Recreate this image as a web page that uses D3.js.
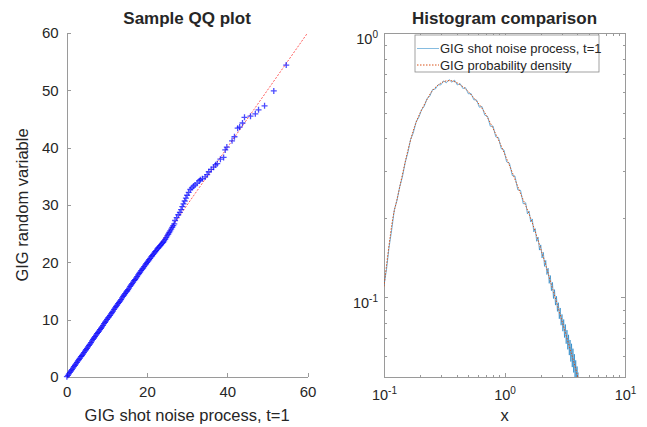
<!DOCTYPE html>
<html>
<head>
<meta charset="utf-8">
<script src="https://cdn.jsdelivr.net/npm/d3@7"></script>
<style>
	body { margin: 0; background: #fff; }
	svg text { font-family: "Liberation Sans", Arial, sans-serif; fill: #262626; }
	.axis path, .axis line { stroke: #9a9a9a; stroke-width: 1; shape-rendering: crispEdges; }
</style>
</head>
<body>
<svg id="chart" width="647" height="427"></svg>
<script>
// QQ plot: sample quantiles
const qqX = [0.05,0.3,0.55,0.8,1.05,1.3,1.55,1.8,2.05,2.3,2.55,2.8,3.05,3.3,3.55,3.8,4.05,4.3,4.55,4.8,
	5.05,5.3,5.55,5.8,6.05,6.3,6.55,6.8,7.05,7.3,7.55,7.8,8.05,8.3,8.55,8.8,9.05,9.3,9.55,9.8,
	10.05,10.3,10.55,10.8,11.05,11.3,11.55,11.8,12.05,12.3,12.55,12.8,13.05,13.3,13.55,13.8,14.05,14.3,14.55,14.8,
	15.05,15.3,15.55,15.8,16.05,16.3,16.55,16.8,17.05,17.3,17.55,17.8,18.05,18.3,18.55,18.8,19.05,19.3,19.55,19.8,
	20.05,20.3,20.55,20.8,21.05,21.3,21.55,21.8,22.05,22.3,22.55,22.8,23.05,23.3,23.55,23.8,24.05,24.3,24.55,24.8,
	25.05,25.3,25.55,25.8,26.05,26.3,26.55,26.8,
	27.0,27.4,27.8,28.2,28.5,28.8,29.1,29.4,29.7,30.0,30.4,30.8,31.2,31.6,32.0,32.5,33.0,33.3,33.8,34.5,
	35.0,35.4,36.0,36.6,37.1,37.5,38.3,39.1,39.5,39.9,41.2,41.8,42.6,43.1,43.8,44.3,45.8,47.0,47.8,49.3,51.6,54.7];
const qqY = [0.05,0.3,0.55,0.8,1.05,1.3,1.55,1.8,2.05,2.3,2.55,2.8,3.05,3.3,3.55,3.75,4.0,4.25,4.5,4.75,
	5.0,5.25,5.5,5.75,6.0,6.3,6.55,6.8,7.05,7.3,7.55,7.8,8.0,8.25,8.5,8.75,9.0,9.3,9.55,9.8,
	10.05,10.3,10.5,10.75,11.0,11.25,11.5,11.8,12.05,12.3,12.55,12.8,13.0,13.25,13.5,13.8,14.05,14.3,14.55,14.8,
	15.0,15.25,15.5,15.8,16.05,16.3,16.55,16.8,17.0,17.25,17.5,17.8,18.05,18.3,18.55,18.8,19.0,19.25,19.5,19.75,
	20.0,20.2,20.45,20.7,20.95,21.15,21.4,21.6,21.85,22.05,22.3,22.5,22.7,22.9,23.1,23.3,23.5,23.75,24.0,24.3,
	24.6,24.9,25.2,25.5,25.8,26.1,26.4,26.7,
	27.3,27.8,28.3,28.7,29.2,29.7,30.2,30.7,31.2,31.7,32.2,32.7,33.0,33.3,33.5,33.8,34.2,34.4,34.6,34.9,
	35.3,35.8,36.2,36.6,37.0,37.2,38.0,38.3,39.6,40.1,41.2,41.9,43.4,43.6,44.3,45.3,45.5,45.9,46.6,47.3,49.9,54.4];
const qqRefLine = [0, 60];
const qqXTicks = [0, 20, 40, 60];
const qqYTicks = [0, 10, 20, 30, 40, 50, 60];

// histogram of the shot noise process
const histX = [0.100,0.105,0.110,0.116,0.122,0.128,0.135,0.142,0.150,0.158,0.166,0.175,0.185,0.195,0.205,0.216,
	0.228,0.240,0.253,0.267,0.281,0.296,0.312,0.329,0.347,0.365,0.385,0.406,0.428,0.451,0.475,0.501,0.528,
	0.556,0.586,0.618,0.651,0.686,0.723,0.762,0.803,0.846,0.892,0.940,0.990,1.04,1.10,1.16,1.22,1.29,1.36,1.43,
	1.50,1.55,1.60,1.65,1.70,1.75,1.80,1.85,1.90,1.95,2.00,2.05,2.10,2.15,2.20,2.25,2.30,2.35,2.40,2.45,
	2.50,2.55,2.60,2.65,2.70,2.75,2.80,2.85,2.90,2.95,3.00,3.05,3.10,3.15,3.20,3.25,3.30,3.35,3.40,3.45,
	3.50,3.55,3.60,3.65,3.70,3.75,3.80,3.85,3.90,3.95,4.00,4.05,4.10];
const histY = [0.111,0.128,0.154,0.181,0.215,0.232,0.262,0.285,0.324,0.354,0.395,0.419,0.462,0.481,0.512,0.529,
	0.566,0.577,0.611,0.614,0.637,0.636,0.659,0.648,0.666,0.652,0.663,0.636,0.644,0.617,0.621,0.589,0.590,
	0.559,0.558,0.524,0.527,0.489,0.484,0.444,0.445,0.405,0.402,0.365,0.361,0.326,0.322,0.289,0.288,0.255,0.254,0.226,
	0.228,0.207,0.212,0.193,0.198,0.177,0.182,0.163,0.169,0.151,0.158,0.141,0.148,0.131,0.138,0.122,0.129,0.113,0.121,0.106,
	0.114,0.099,0.107,0.0935,0.101,0.0885,0.0955,0.0830,0.0912,0.0785,0.0862,0.0745,0.0825,0.0705,0.0790,0.0668,0.0752,0.0636,0.0722,0.0605,
	0.0690,0.0572,0.0668,0.0545,0.0640,0.0520,0.0610,0.0500,0.0578,0.0482,0.0548,0.0470,0.0520];

// GIG probability density
const pdfX = [0.100,0.119,0.128,0.164,0.188,0.227,0.255,0.309,0.367,0.453,0.548,0.664,0.867,1.11,1.35,1.63,2.09,2.52,3.05,3.63,4.00,4.50];
const pdfY = [0.110,0.202,0.234,0.385,0.469,0.559,0.609,0.653,0.659,0.626,0.573,0.512,0.405,0.312,0.249,0.202,0.143,0.107,0.0794,0.0603,0.0513,0.0400];

const logXTicks = [0.1, 1, 10];
const logXMinor = [0.2,0.3,0.4,0.5,0.6,0.7,0.8,0.9,2,3,4,5,6,7,8,9];
const logYTicks = [0.1, 1];
const logYMinor = [0.06,0.07,0.08,0.09,0.2,0.3,0.4,0.5,0.6,0.7,0.8,0.9];

const legendLabels = ['GIG shot noise process, t=1', 'GIG probability density'];
const histColor = '#0072BD';
const pdfColor = '#D95319';

const svg = d3.select('#chart');

// ---------- left: sample QQ plot ----------
const qq = { left: 66.7, right: 307.5, top: 33, bottom: 377 };
const qxScale = d3.scaleLinear().domain([0, 60]).range([qq.left, qq.right]);
const qyScale = d3.scaleLinear().domain([0, 60]).range([qq.bottom, qq.top]);

svg.append('g')
	.attr('class', 'axis')
	.attr('transform', `translate(0, ${qq.bottom})`)
	.call(d3.axisBottom(qxScale).tickValues(qqXTicks).tickSizeInner(-4).tickSizeOuter(0).tickPadding(9))
	.selectAll('text').style('font-size', '15px');

svg.append('g')
	.attr('class', 'axis')
	.attr('transform', `translate(${qq.left}, 0)`)
	.call(d3.axisLeft(qyScale).tickValues(qqYTicks).tickSizeInner(-4).tickSizeOuter(0).tickPadding(8))
	.selectAll('text').style('font-size', '15px');

svg.append('line')
	.attr('x1', qxScale(qqRefLine[0])).attr('y1', qyScale(qqRefLine[0]))
	.attr('x2', qxScale(qqRefLine[1])).attr('y2', qyScale(qqRefLine[1]))
	.style('stroke', '#ff0000')
	.style('stroke-width', 0.8)
	.style('stroke-opacity', 0.8)
	.style('stroke-dasharray', '2,1.5');

const qqPoints = qqX.map((x, i) => [x, qqY[i]]);
svg.append('g')
	.selectAll('path')
	.data(qqPoints)
	.enter()
	.append('path')
		.attr('d', d => {
			const px = qxScale(d[0]), py = qyScale(d[1]);
			return `M${px - 3},${py}H${px + 3}M${px},${py - 3}V${py + 3}`;
		})
		.style('stroke', '#0000ff')
		.style('stroke-width', 1.3)
		.style('stroke-opacity', 0.7);

svg.append('text')
	.attr('x', (qq.left + qq.right) / 2).attr('y', 24)
	.attr('text-anchor', 'middle')
	.style('font-size', '17px').style('font-weight', 'bold')
	.text('Sample QQ plot');

svg.append('text')
	.attr('x', (qq.left + qq.right) / 2).attr('y', 421)
	.attr('text-anchor', 'middle')
	.style('font-size', '16.5px')
	.text('GIG shot noise process, t=1');

svg.append('text')
	.attr('transform', `translate(28, ${(qq.top + qq.bottom) / 2}) rotate(-90)`)
	.attr('text-anchor', 'middle')
	.style('font-size', '16.5px')
	.text('GIG random variable');

// ---------- right: histogram comparison ----------
const hc = { left: 384, right: 625, top: 33, bottom: 377 };
const hxScale = d3.scaleLog().domain([0.1, 10]).range([hc.left, hc.right]);
const hyScale = d3.scaleLog().domain([0.05, 1]).range([hc.bottom, hc.top]);

function powerLabels(sel, isY) {
	sel.selectAll('.tick text').each(function(d) {
		const t = d3.select(this).text(null).style('font-size', '14.5px');
		t.append('tspan').text('10');
		t.append('tspan')
			.attr('dy', '-6')
			.style('font-size', '10px')
			.text(Math.round(Math.log10(d)));
		if (isY) t.attr('dy', '0.72em'); else t.attr('dy', '0.95em');
	});
}

const frame = svg.append('g').attr('class', 'axis');

frame.append('g')
	.attr('transform', `translate(0, ${hc.bottom})`)
	.call(d3.axisBottom(hxScale).tickValues(logXTicks).tickSizeInner(-4).tickSizeOuter(0).tickPadding(9))
	.call(g => powerLabels(g, false));
frame.append('g')
	.attr('transform', `translate(0, ${hc.bottom})`)
	.call(d3.axisBottom(hxScale).tickValues(logXMinor).tickSize(-2.5).tickFormat(''))
	.call(g => g.select('.domain').remove());
frame.append('g')
	.attr('transform', `translate(0, ${hc.top})`)
	.call(d3.axisTop(hxScale).tickValues(logXTicks).tickSizeInner(-4).tickSizeOuter(0).tickFormat(''));
frame.append('g')
	.attr('transform', `translate(0, ${hc.top})`)
	.call(d3.axisTop(hxScale).tickValues(logXMinor).tickSize(-2.5).tickFormat(''))
	.call(g => g.select('.domain').remove());

frame.append('g')
	.attr('transform', `translate(${hc.left}, 0)`)
	.call(d3.axisLeft(hyScale).tickValues(logYTicks).tickSizeInner(-4).tickSizeOuter(0).tickPadding(6))
	.call(g => powerLabels(g, true));
frame.append('g')
	.attr('transform', `translate(${hc.left}, 0)`)
	.call(d3.axisLeft(hyScale).tickValues(logYMinor).tickSize(-2.5).tickFormat(''))
	.call(g => g.select('.domain').remove());
frame.append('g')
	.attr('transform', `translate(${hc.right}, 0)`)
	.call(d3.axisRight(hyScale).tickValues(logYTicks).tickSizeInner(-4).tickSizeOuter(0).tickFormat(''));
frame.append('g')
	.attr('transform', `translate(${hc.right}, 0)`)
	.call(d3.axisRight(hyScale).tickValues(logYMinor).tickSize(-2.5).tickFormat(''))
	.call(g => g.select('.domain').remove());

svg.append('clipPath').attr('id', 'hclip')
	.append('rect')
	.attr('x', hc.left).attr('y', hc.top)
	.attr('width', hc.right - hc.left).attr('height', hc.bottom - hc.top);

const plot = svg.append('g').attr('clip-path', 'url(#hclip)');

const histLine = d3.line()
	.x(d => hxScale(d[0]))
	.y(d => hyScale(d[1]));

plot.append('path')
	.datum(histX.map((x, i) => [x, histY[i]]))
	.attr('d', histLine)
	.style('fill', 'none')
	.style('stroke', histColor)
	.style('stroke-width', 0.8)
	.style('stroke-opacity', 0.7);

const pdfLine = d3.line()
	.x(d => hxScale(d[0]))
	.y(d => hyScale(d[1]))
	.curve(d3.curveCatmullRom);

plot.append('path')
	.datum(pdfX.map((x, i) => [x, pdfY[i]]))
	.attr('d', pdfLine)
	.style('fill', 'none')
	.style('stroke', pdfColor)
	.style('stroke-width', 1)
	.style('stroke-dasharray', '1.5,1.5');

// legend
const legend = svg.append('g').attr('transform', 'translate(415, 35)');
legend.append('rect')
	.attr('width', 184).attr('height', 37)
	.style('fill', '#fff')
	.style('stroke', '#8a8a8a')
	.style('stroke-width', 0.8);

legendLabels.forEach((label, i) => {
	const y = 13.5 + i * 16.5;
	legend.append('line')
		.attr('x1', 2).attr('x2', 24).attr('y1', y).attr('y2', y)
		.style('stroke', i === 0 ? histColor : pdfColor)
		.style('stroke-width', i === 0 ? 0.8 : 1)
		.style('stroke-opacity', i === 0 ? 0.6 : 1)
		.style('stroke-dasharray', i === 0 ? null : '1.5,1.5');
	legend.append('text')
		.attr('x', 25).attr('y', y).attr('dy', '0.35em')
		.style('font-size', '13px')
		.text(label);
});

svg.append('text')
	.attr('x', (hc.left + hc.right) / 2).attr('y', 24)
	.attr('text-anchor', 'middle')
	.style('font-size', '17px').style('font-weight', 'bold')
	.text('Histogram comparison');

svg.append('text')
	.attr('x', hxScale(1)).attr('y', 421)
	.attr('text-anchor', 'middle')
	.style('font-size', '16.5px')
	.text('x');
</script>
</body>
</html>
